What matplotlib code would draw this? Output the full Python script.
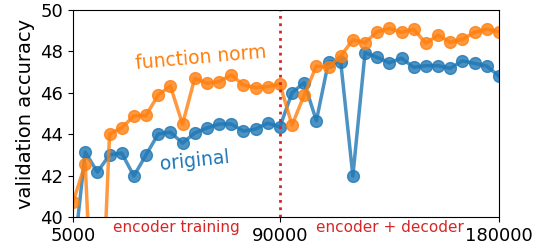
import numpy as np
import matplotlib
matplotlib.use('Agg')
import matplotlib.pyplot as plt

# checkpoints every 5000 steps
steps = np.arange(5000, 180001, 5000)

original = [37.8, 43.14, 42.17, 43.0, 43.09, 41.98, 43.0, 44.01, 44.1, 43.57,
            44.06, 44.3, 44.49, 44.49, 44.15, 44.25, 44.54, 44.35,
            46.0, 46.49, 44.65, 47.5, 47.5, 41.98, 47.94, 47.71, 47.45, 47.67,
            47.23, 47.31, 47.31, 47.18, 47.54, 47.42, 47.29, 46.81]

function_norm = [40.72, 42.56, 30.0, 44.0, 44.31, 44.88, 44.91, 45.89, 46.33, 44.48,
                 46.7, 46.46, 46.54, 46.86, 46.38, 46.25, 46.3, 46.42,
                 44.44, 45.89, 47.29, 47.23, 47.78, 48.55, 48.42, 48.95, 49.11, 48.92,
                 49.07, 48.39, 48.79, 48.44, 48.58, 48.92, 49.08, 48.95]

switch_step = 90000

fig = plt.figure(figsize=(5.37, 2.49), dpi=100)
ax = fig.add_axes([0.136, 0.1285, 0.793, 0.8315])

ax.plot(steps, original, color='tab:blue', marker='o', markersize=8.5, linewidth=2.5, alpha=0.8)
ax.plot(steps, function_norm, color='tab:orange', marker='o', markersize=8.5, linewidth=2.5, alpha=0.8)
ax.axvline(switch_step, color='tab:red', linestyle=':', linewidth=2)

ax.text(57600, 47.68, 'function norm', color='tab:orange', fontsize=13.5, rotation=5,
        ha='center', va='center')
ax.text(55100, 42.7, 'original', color='tab:blue', fontsize=13.5, rotation=6,
        ha='center', va='center')

ax.text(47300, -0.05, 'encoder training', color='tab:red', fontsize=11,
        ha='center', va='center', transform=ax.get_xaxis_transform())
ax.text(135200, -0.05, 'encoder + decoder', color='tab:red', fontsize=11,
        ha='center', va='center', transform=ax.get_xaxis_transform())

ax.set_xlim(5000, 180000)
ax.set_ylim(40, 50)
ax.set_xticks([5000, 90000, 180000])
ax.set_yticks([40, 42, 44, 46, 48, 50])
ax.tick_params(labelsize=13)
ax.set_ylabel('validation accuracy', fontsize=14)

fig.savefig('out.png', dpi=100)
